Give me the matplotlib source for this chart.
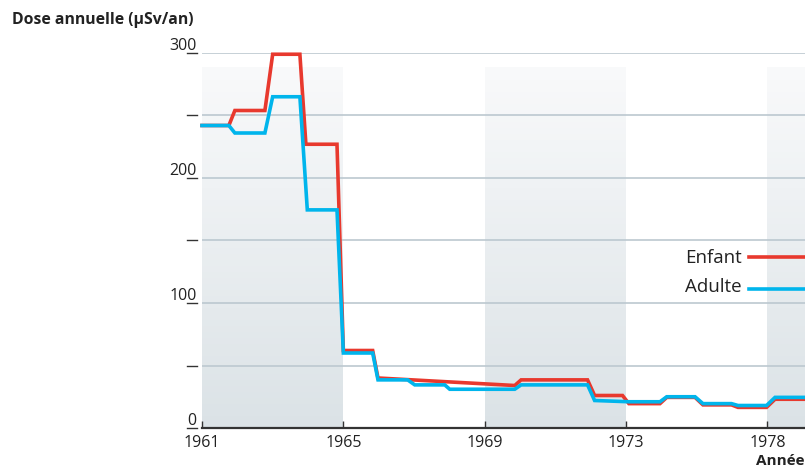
import numpy as np
import matplotlib
matplotlib.use("Agg")
import matplotlib.pyplot as plt
import matplotlib.ticker as ticker
import matplotlib.transforms as mtransforms

plt.rcParams['font.family'] = ['Open Sans', 'DejaVu Sans']

# data (x in years, y in µSv/an)
enfant_x = [1961.0, 1961.76, 1961.93, 1962.78, 1963.0, 1963.77, 1963.94, 1964.82,
            1965.0, 1965.83, 1965.98, 1969.85, 1970.03, 1971.91, 1972.11, 1972.90,
            1973.1, 1974.2, 1974.44, 1975.44, 1975.72, 1976.73, 1976.96, 1977.97,
            1978.27, 1979.33]
enfant_y = [242, 242, 254, 254, 299, 299, 227, 227,
            62, 62, 40, 34, 38.5, 38.5, 26, 26,
            19.5, 19.5, 24.5, 24.5, 18.5, 18.5, 16.5, 16.5,
            23, 23]

adulte_x = [1961.0, 1961.76, 1961.93, 1962.78, 1963.0, 1963.77, 1963.98, 1964.82,
            1965.0, 1965.83, 1965.98, 1966.82, 1967.02, 1967.87, 1968.01, 1969.85,
            1970.03, 1971.91, 1972.11, 1973.1, 1974.2, 1974.44, 1975.44, 1975.72,
            1976.73, 1976.96, 1977.97, 1978.27, 1979.33]
adulte_y = [242, 242, 236, 236, 265, 265, 174.5, 174.5,
            60, 60, 38.5, 38.5, 34.5, 34.5, 31, 31,
            34.5, 34.5, 22, 21, 21, 25, 25, 19.5,
            19.5, 18, 18, 24.5, 24.5]

tick_years = [1961, 1965, 1969, 1973, 1978]
tick_labels = ['1961', '1965', '1969', '1973', '1978']
shaded = [(1961, 1965), (1969, 1973), (1978, 1979.33)]
y_labels = [0, 100, 200, 300]
y_marks = [50, 150, 250]

RED = '#e8392e'
BLUE = '#00b5ec'
DARK = '#333333'

# the chart puts its labelled years at equal distances
units = np.arange(len(tick_years), dtype=float)
# extend the mapping a little past both ends so limits stay valid
map_years = [1957] + tick_years + [1983]
map_units = [-1.0] + list(units) + [5.0]


def fwd(x):
    return np.interp(x, map_years, map_units)


def inv(u):
    return np.interp(u, map_units, map_years)


fig = plt.figure(figsize=(8.05, 4.68), dpi=100)
ax = fig.add_axes([202 / 805, 40 / 468, 603 / 805, 375 / 468])
ax.set_xscale('function', functions=(fwd, inv))
ax.set_xlim(1961, 1979.33)
ax.set_ylim(0, 300)

# gradient bands, dark at the bottom, almost white at the top
n = 60
top = 288 / 300
c0 = np.array([0xdb, 0xe2, 0xe6]) / 255
c1 = np.array([0xf8, 0xf9, 0xfa]) / 255
for x0, x1 in shaded:
    for i in range(n):
        f = i / (n - 1)
        col = c0 + (c1 - c0) * f
        ax.axvspan(x0, x1, ymin=top * i / n, ymax=top * (i + 1) / n + 0.002,
                   color=col, lw=0, zorder=0)

for v in y_marks + y_labels[1:]:
    ax.axhline(v, color='#bcc8d0', lw=1.2, zorder=1)

ax.plot(enfant_x, enfant_y, color=RED, lw=2.6, solid_joinstyle='miter', zorder=3, clip_on=False)
ax.plot(adulte_x, adulte_y, color=BLUE, lw=2.6, solid_joinstyle='miter', zorder=4, clip_on=False)

for s in ['top', 'right', 'left']:
    ax.spines[s].set_visible(False)
ax.spines['bottom'].set_color(DARK)
ax.spines['bottom'].set_linewidth(1.6)
ax.spines['bottom'].set_zorder(5)

ax.set_xticks(tick_years)
ax.set_xticklabels(tick_labels)
ax.xaxis.set_minor_locator(ticker.NullLocator())
ax.tick_params(axis='x', direction='in', length=5, width=1, color=DARK,
               labelsize=11.5, labelcolor='#222222', pad=5)
ax.set_yticks([])

# y ticks drawn left of the plot, labels sit on top of the tick line
trans = mtransforms.blended_transform_factory(ax.transAxes, ax.transData)
for v in y_marks + y_labels:
    ax.plot([-0.025, -0.0085], [v, v], color=DARK, lw=1.0, transform=trans, clip_on=False)
for v in y_labels:
    ax.annotate(str(v), xy=(-0.0085, v), xycoords=trans, xytext=(0, -0.5),
                textcoords='offset points', ha='right', va='bottom',
                fontsize=11.5, color='#222222')

# legend
ax.text(0.895, 136, 'Enfant', transform=trans, ha='right', va='center', fontsize=13.5, color='#222222')
ax.plot([0.907, 1.0], [137, 137], color=RED, lw=2.6, transform=trans, clip_on=False)
ax.text(0.895, 113, 'Adulte', transform=trans, ha='right', va='center', fontsize=13.5, color='#222222')
ax.plot([0.907, 1.0], [111.5, 111.5], color=BLUE, lw=2.6, transform=trans, clip_on=False)

fig.text(12 / 805, 1 - 20 / 468, 'Dose annuelle (µSv/an)', ha='left', va='center',
         fontsize=11.3, fontweight='bold', color='#222222')
fig.text(804 / 805, 1 - 461 / 468, 'Année', ha='right', va='center',
         fontsize=11, fontweight='bold', color='#222222')

fig.savefig('out.png', dpi=100)
